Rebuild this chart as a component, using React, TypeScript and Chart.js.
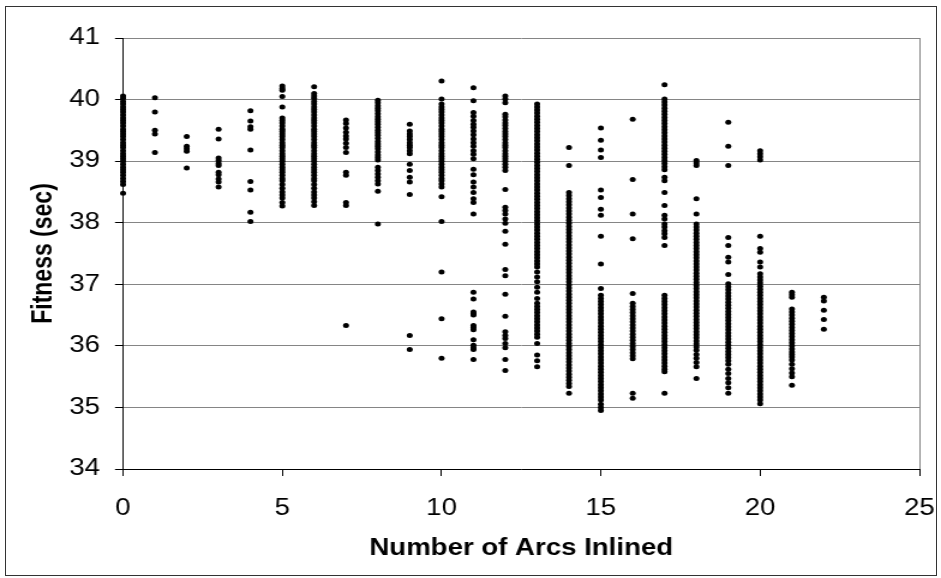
import React, { useEffect, useRef } from "react";
import { Chart, registerables } from "chart.js";

Chart.register(...registerables);

// Number of arcs inlined (x categories) and the fitness values (sec) read at each.
const arcs = [0, 1, 2, 3, 4, 5, 6, 7, 8, 9, 10, 11, 12, 13, 14, 15, 16, 17, 18, 19, 20, 21, 22];

const fit0 = [40.06, 40.02, 39.97, 39.93, 39.88, 39.84, 39.8, 39.75, 39.7, 39.66, 39.62, 39.57, 39.52, 39.48, 39.44, 39.4, 39.35, 39.3, 39.26, 39.22, 39.17, 39.12, 39.08, 39.04, 39.0, 38.95, 38.9, 38.86, 38.82, 38.77, 38.72, 38.67, 38.62, 38.48];
const fit1 = [40.03, 39.8, 39.5, 39.44, 39.14];
const fit2 = [39.4, 39.24, 39.2, 39.16, 38.89];
const fit3 = [39.52, 39.36, 39.05, 39.01, 38.96, 38.93, 38.82, 38.78, 38.71, 38.66, 38.58];
const fit4 = [39.82, 39.65, 39.56, 39.52, 39.18, 38.67, 38.53, 38.17, 38.02];
const fit5 = [40.22, 40.18, 40.15, 40.05, 39.88, 39.7, 39.66, 39.62, 39.57, 39.52, 39.48, 39.44, 39.4, 39.35, 39.3, 39.26, 39.22, 39.17, 39.12, 39.08, 39.04, 39.0, 38.95, 38.9, 38.86, 38.82, 38.77, 38.72, 38.68, 38.62, 38.56, 38.5, 38.45, 38.4, 38.33, 38.27];
const fit6 = [40.21, 40.1, 40.06, 40.02, 39.97, 39.93, 39.88, 39.84, 39.8, 39.75, 39.7, 39.66, 39.62, 39.57, 39.52, 39.48, 39.44, 39.4, 39.35, 39.3, 39.26, 39.22, 39.17, 39.12, 39.08, 39.04, 39.0, 38.95, 38.9, 38.86, 38.82, 38.77, 38.72, 38.68, 38.62, 38.56, 38.5, 38.45, 38.4, 38.34, 38.28];
const fit7 = [39.67, 39.61, 39.54, 39.47, 39.41, 39.36, 39.29, 39.22, 39.14, 38.82, 38.77, 38.33, 38.28, 36.33];
const fit8 = [39.99, 39.95, 39.9, 39.86, 39.82, 39.77, 39.72, 39.68, 39.64, 39.6, 39.55, 39.5, 39.46, 39.42, 39.37, 39.32, 39.28, 39.24, 39.2, 39.15, 39.1, 39.06, 39.02, 38.9, 38.85, 38.79, 38.74, 38.68, 38.63, 38.51, 37.98];
const fit9 = [39.6, 39.49, 39.44, 39.4, 39.35, 39.3, 39.26, 39.22, 39.17, 39.12, 38.95, 38.85, 38.74, 38.66, 38.46, 36.17, 35.94];
const fit10 = [40.3, 40.01, 39.93, 39.88, 39.84, 39.8, 39.75, 39.7, 39.66, 39.62, 39.57, 39.52, 39.48, 39.44, 39.4, 39.35, 39.3, 39.26, 39.22, 39.17, 39.12, 39.08, 39.04, 39.0, 38.95, 38.9, 38.86, 38.82, 38.77, 38.72, 38.68, 38.63, 38.58, 38.42, 38.02, 37.2, 36.44, 35.8];
const fit11 = [40.19, 39.98, 39.79, 39.73, 39.66, 39.6, 39.55, 39.49, 39.43, 39.36, 39.3, 39.24, 39.17, 39.11, 39.04, 38.87, 38.78, 38.66, 38.58, 38.49, 38.39, 38.33, 38.14, 36.87, 36.76, 36.55, 36.52, 36.5, 36.33, 36.3, 36.26, 36.1, 36.01, 35.97, 35.94, 35.78];
const fit12 = [40.06, 40.01, 39.95, 39.76, 39.72, 39.67, 39.62, 39.58, 39.53, 39.48, 39.44, 39.4, 39.35, 39.3, 39.26, 39.22, 39.17, 39.12, 39.08, 39.04, 39.0, 38.95, 38.9, 38.85, 38.54, 38.25, 38.2, 38.14, 38.06, 37.99, 37.86, 37.65, 37.24, 37.14, 36.84, 36.48, 36.23, 36.17, 36.12, 36.04, 35.97, 35.78, 35.6];
const fit13 = [39.93, 39.88, 39.83, 39.78, 39.73, 39.68, 39.63, 39.58, 39.53, 39.48, 39.43, 39.38, 39.33, 39.28, 39.23, 39.18, 39.13, 39.08, 39.03, 38.98, 38.93, 38.88, 38.83, 38.78, 38.73, 38.68, 38.63, 38.58, 38.53, 38.48, 38.43, 38.38, 38.33, 38.28, 38.23, 38.18, 38.13, 38.08, 38.03, 37.98, 37.93, 37.88, 37.83, 37.78, 37.73, 37.68, 37.63, 37.58, 37.53, 37.48, 37.43, 37.38, 37.33, 37.28, 37.2, 37.12, 37.04, 36.95, 36.87, 36.77, 36.69, 36.64, 36.59, 36.54, 36.49, 36.44, 36.39, 36.34, 36.29, 36.24, 36.19, 36.14, 36.04, 35.85, 35.76, 35.66];
const fit14 = [39.22, 38.93, 38.49, 38.44, 38.39, 38.34, 38.29, 38.24, 38.19, 38.14, 38.09, 38.04, 37.99, 37.94, 37.89, 37.84, 37.79, 37.74, 37.69, 37.64, 37.59, 37.54, 37.49, 37.44, 37.39, 37.34, 37.29, 37.24, 37.19, 37.14, 37.09, 37.04, 36.99, 36.94, 36.89, 36.84, 36.79, 36.74, 36.69, 36.64, 36.59, 36.54, 36.49, 36.44, 36.39, 36.34, 36.29, 36.24, 36.19, 36.14, 36.09, 36.04, 35.99, 35.94, 35.89, 35.84, 35.79, 35.74, 35.69, 35.64, 35.59, 35.54, 35.49, 35.44, 35.39, 35.34, 35.23];
const fit15 = [39.54, 39.34, 39.18, 39.06, 38.53, 38.41, 38.22, 38.12, 37.78, 37.33, 36.93, 36.82, 36.77, 36.72, 36.67, 36.62, 36.57, 36.52, 36.47, 36.42, 36.37, 36.32, 36.27, 36.22, 36.17, 36.12, 36.07, 36.02, 35.97, 35.92, 35.87, 35.82, 35.77, 35.72, 35.67, 35.62, 35.57, 35.52, 35.47, 35.42, 35.37, 35.32, 35.27, 35.22, 35.17, 35.12, 35.05, 35.0, 34.95];
const fit16 = [39.68, 38.7, 38.14, 37.74, 36.85, 36.69, 36.64, 36.59, 36.54, 36.49, 36.44, 36.39, 36.34, 36.29, 36.24, 36.19, 36.14, 36.09, 36.04, 35.99, 35.94, 35.89, 35.84, 35.79, 35.23, 35.15];
const fit17 = [40.24, 40.01, 39.96, 39.91, 39.86, 39.81, 39.76, 39.71, 39.66, 39.61, 39.56, 39.51, 39.46, 39.41, 39.36, 39.31, 39.26, 39.21, 39.16, 39.11, 39.06, 39.01, 38.96, 38.91, 38.86, 38.74, 38.68, 38.49, 38.28, 38.12, 38.06, 37.98, 37.93, 37.87, 37.82, 37.76, 37.63, 36.82, 36.77, 36.72, 36.67, 36.62, 36.57, 36.52, 36.47, 36.42, 36.37, 36.32, 36.27, 36.22, 36.17, 36.12, 36.07, 36.02, 35.97, 35.92, 35.87, 35.82, 35.77, 35.72, 35.67, 35.62, 35.58, 35.23];
const fit18 = [39.01, 38.97, 38.93, 38.39, 38.14, 37.98, 37.93, 37.88, 37.83, 37.78, 37.73, 37.68, 37.63, 37.58, 37.53, 37.48, 37.43, 37.38, 37.33, 37.28, 37.23, 37.18, 37.13, 37.08, 37.03, 36.98, 36.93, 36.88, 36.83, 36.78, 36.73, 36.68, 36.63, 36.58, 36.53, 36.48, 36.43, 36.38, 36.33, 36.28, 36.23, 36.18, 36.13, 36.08, 36.03, 35.98, 35.93, 35.86, 35.8, 35.73, 35.66, 35.47];
const fit19 = [39.63, 39.24, 38.93, 37.76, 37.63, 37.44, 37.36, 37.16, 37.01, 36.96, 36.91, 36.86, 36.81, 36.76, 36.71, 36.66, 36.61, 36.56, 36.51, 36.46, 36.41, 36.36, 36.31, 36.26, 36.21, 36.16, 36.11, 36.06, 36.01, 35.96, 35.91, 35.86, 35.81, 35.76, 35.7, 35.62, 35.55, 35.47, 35.4, 35.32, 35.23];
const fit20 = [39.17, 39.12, 39.07, 39.02, 37.78, 37.58, 37.52, 37.36, 37.28, 37.17, 37.12, 37.07, 37.02, 36.97, 36.92, 36.87, 36.82, 36.77, 36.72, 36.67, 36.62, 36.57, 36.52, 36.47, 36.42, 36.37, 36.32, 36.27, 36.22, 36.17, 36.12, 36.07, 36.02, 35.97, 35.92, 35.87, 35.82, 35.77, 35.72, 35.67, 35.62, 35.57, 35.52, 35.47, 35.42, 35.37, 35.32, 35.27, 35.22, 35.17, 35.12, 35.06];
const fit21 = [36.87, 36.83, 36.79, 36.6, 36.55, 36.5, 36.45, 36.4, 36.35, 36.3, 36.25, 36.2, 36.15, 36.1, 36.05, 36.0, 35.95, 35.9, 35.86, 35.82, 35.77, 35.7, 35.63, 35.56, 35.5, 35.36];
const fit22 = [36.79, 36.73, 36.58, 36.43, 36.27];

const fitnessByArcs = [fit0, fit1, fit2, fit3, fit4, fit5, fit6, fit7, fit8, fit9, fit10, fit11, fit12, fit13, fit14, fit15, fit16, fit17, fit18, fit19, fit20, fit21, fit22];

const xTitle = "Number of Arcs Inlined";
const yTitle = "Fitness (sec)";

const FONT = '"Liberation Sans", Arial, Helvetica, sans-serif';
const GRID = "#858585";

export default function App() {
  const ref = useRef<HTMLCanvasElement | null>(null);

  useEffect(() => {
    const canvas = ref.current;
    if (!canvas) return;
    const points = fitnessByArcs.flatMap((vals, i) => vals.map((v) => ({ x: arcs[i], y: v })));
    const chart = new Chart(canvas, {
      type: "scatter",
      data: {
        datasets: [
          {
            data: points,
            pointRadius: 2.5,
            pointHoverRadius: 2.5,
            pointBackgroundColor: "#000",
            pointBorderWidth: 0,
            showLine: false,
            clip: false,
          },
        ],
      },
      options: {
        responsive: false,
        maintainAspectRatio: false,
        animation: false,
        devicePixelRatio: 1,
        layout: { padding: { left: 0, right: 18, top: 38, bottom: 0 } },
        plugins: { legend: { display: false }, tooltip: { enabled: false } },
        scales: {
          x: {
            type: "linear",
            min: 0,
            max: 25,
            afterFit: (s: any) => {
              s.height = 109;
              s.paddingLeft = 0;
              s.paddingRight = 0;
            },
            ticks: {
              stepSize: 5,
              color: "#000",
              padding: 19,
              maxRotation: 0,
              font: { family: FONT, size: 23 },
            },
            grid: {
              color: (c: any) => (c.tick && c.tick.value === 25 ? GRID : "rgba(0,0,0,0)"),
              tickColor: "#000",
              tickLength: 7,
              lineWidth: 1,
            },
            border: { color: "#000", width: 1 },
            title: {
              display: true,
              text: xTitle,
              color: "#000",
              font: { family: FONT, size: 23, weight: "bold" },
              padding: { top: 0, bottom: 16 },
            },
          },
          y: {
            type: "linear",
            min: 34,
            max: 41,
            afterFit: (s: any) => {
              s.width = 102.5;
              s.paddingTop = 0;
              s.paddingBottom = 0;
            },
            ticks: {
              stepSize: 1,
              color: "#000",
              padding: 12.5,
              font: { family: FONT, size: 23 },
            },
            grid: {
              color: GRID,
              tickColor: "#000",
              tickLength: 6.7,
              lineWidth: 1,
            },
            border: { color: "#000", width: 1 },
            title: {
              display: true,
              text: yTitle,
              color: "#000",
              font: { family: FONT, size: 23, weight: "bold" },
              padding: { top: 23, bottom: 0 },
            },
          },
        },
      },
    });
    return () => chart.destroy();
  }, []);

  return (
    <div style={{ position: "fixed", left: 0, top: 0, width: 941, height: 578, background: "#fff" }}>
      <canvas
        ref={ref}
        width={784}
        height={578}
        style={{ position: "absolute", left: 0, top: 0, width: "941px", height: "578px" }}
      />
      <div
        style={{
          position: "absolute",
          left: 5,
          top: 6,
          width: 930,
          height: 568,
          border: "1px solid #333",
          pointerEvents: "none",
        }}
      />
    </div>
  );
}
